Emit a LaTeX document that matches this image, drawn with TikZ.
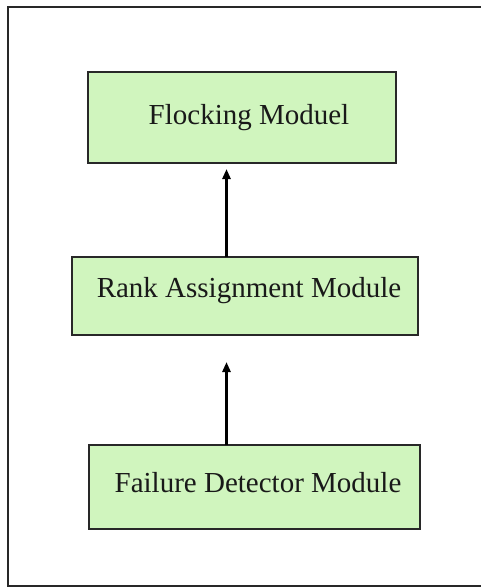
\documentclass[tikz,border=0pt]{standalone}
\usepackage{fontspec}
\setmainfont{Liberation Serif}
\usetikzlibrary{arrows.meta}
\definecolor{boxfill}{RGB}{208,245,190}
\definecolor{boxline}{RGB}{40,40,40}
\tikzset{
  modbox/.style={draw=boxline, line width=2pt, fill=boxfill, rectangle, inner sep=0pt, outer sep=0pt},
  modtext/.style={anchor=base, inner sep=0pt, font=\fontsize{29}{34}\selectfont, text=black!90},
  uparrow/.style={line width=3pt, -{Triangle[length=10pt,width=8pt]}}
}
\begin{document}
\begin{tikzpicture}[x=1pt,y=-1pt]
\useasboundingbox (0,0) rectangle (481,588);
\draw[line width=2pt, boxline] (483,7) -- (8,7) -- (8,586) -- (483,586);
\node[modbox, minimum width=308pt, minimum height=91pt] (flock) at (242,117.5) {};
\node[modbox, minimum width=346pt, minimum height=78pt] (rank) at (245,296) {};
\node[modbox, minimum width=331pt, minimum height=84pt] (fail) at (254.5,487) {};
\node[modtext] (tflock) at (249,125) {Flocking Moduel};
\node[modtext] (trank) at (249,297) {Rank Assignment Module};
\node[modtext] (tfail) at (258,492) {Failure Detector Module};
\coordinate (ax) at (226.5,0);
\draw[uparrow, shorten >=6pt] (rank.north -| ax) -- (flock.south -| ax);
\draw[uparrow, shorten >=27pt] (fail.north -| ax) -- (rank.south -| ax);
\end{tikzpicture}
\end{document}
